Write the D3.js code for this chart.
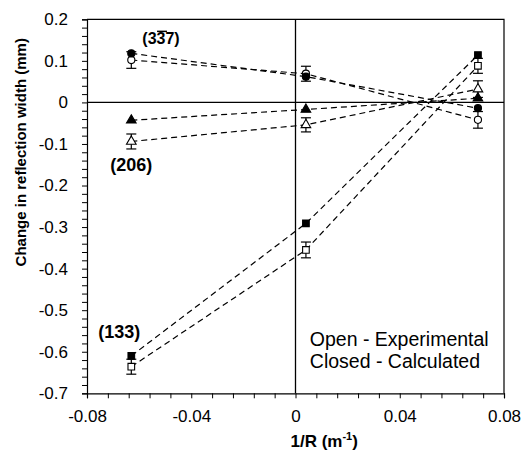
<!DOCTYPE html>
<html>
<head>
<meta charset="utf-8">
<script src="https://cdn.jsdelivr.net/npm/d3@7"></script>
<style>
  body { margin: 0; background: #fff; }
  svg { display: block; font-family: "Liberation Sans", Arial, sans-serif; }
</style>
</head>
<body>
<div class="chart"></div>
<script>
// 1/R positions (m^-1)
const invR = [-0.063, 0.004, 0.07];

// calculated (closed markers)
const calc337 = [0.118, 0.062, -0.014];
const calc206 = [-0.043, -0.017, 0.010];
const calc133 = [-0.610, -0.291, 0.114];

// experimental (open markers) and error bars
const exp337 = [0.102, 0.069, -0.042];
const err337 = [0.020, 0.018, 0.020];
const exp206 = [-0.094, -0.054, 0.032];
const err206 = [0.018, 0.017, 0.020];
const exp133 = [-0.636, -0.355, 0.088];
const err133 = [0.018, 0.019, 0.018];

const xTicks = d3.range(-0.08, 0.0801, 0.008);
const xLabels = [-0.08, -0.04, 0, 0.04, 0.08];
const yTicks = d3.range(-0.7, 0.2001, 0.02);
const yLabels = [0.2, 0.1, 0, -0.1, -0.2, -0.3, -0.4, -0.5, -0.6, -0.7];

const width = 524, height = 461;
const margin = {top: 19.3, right: 20, bottom: 67.7, left: 87};

const svg = d3.select('.chart').append('svg')
    .attr('width', width)
    .attr('height', height);

const x = d3.scaleLinear().domain([-0.08, 0.08]).range([margin.left, width - margin.right]);
const y = d3.scaleLinear().domain([-0.7, 0.2]).range([height - margin.bottom, margin.top]);

// only some ticks get a label
const labelOf = list => v => {
    const l = list.find(l => Math.abs(l - v) < 1e-6);
    return l === undefined ? '' : String(l);
};

const xAxis = d3.axisBottom(x)
    .tickValues(xTicks)
    .tickSize(5)
    .tickPadding(12)
    .tickFormat(labelOf(xLabels));
const yAxis = d3.axisLeft(y)
    .tickValues(yTicks)
    .tickSize(5)
    .tickPadding(14)
    .tickFormat(labelOf(yLabels));

const gx = svg.append('g')
    .attr('transform', `translate(0,${y(-0.7)})`)
    .call(xAxis);
const gy = svg.append('g')
    .attr('transform', `translate(${x(-0.08)},0)`)
    .call(yAxis);

[gx, gy].forEach(g => {
    g.select('.domain').attr('stroke', '#000').attr('stroke-width', 1.2);
    g.selectAll('.tick line').attr('stroke', '#000').attr('stroke-width', 1);
    g.selectAll('.tick text').attr('fill', '#000').style('font-size', '17px');
});

// frame top/right
svg.append('path')
    .attr('d', `M${x(-0.08)},${y(0.2)}H${x(0.08)}V${y(-0.7)}`)
    .attr('fill', 'none').attr('stroke', '#000').attr('stroke-width', 1.2);

// zero lines
svg.append('line')
    .attr('x1', x(-0.08)).attr('x2', x(0.08))
    .attr('y1', y(0)).attr('y2', y(0))
    .attr('stroke', '#000').attr('stroke-width', 1.3);
svg.append('line')
    .attr('x1', x(0)).attr('x2', x(0))
    .attr('y1', y(0.2)).attr('y2', y(-0.7))
    .attr('stroke', '#000').attr('stroke-width', 1.3);

const series = [
    {vals: exp337, err: err337, shape: 'circle', open: true},
    {vals: calc337, shape: 'circle', open: false},
    {vals: exp206, err: err206, shape: 'triangle', open: true},
    {vals: calc206, shape: 'triangle', open: false},
    {vals: exp133, err: err133, shape: 'square', open: true},
    {vals: calc133, shape: 'square', open: false}
];

const line = d3.line().x((d, i) => x(invR[i])).y(d => y(d));

// dashed lines
svg.append('g').selectAll('path')
    .data(series)
    .join('path')
    .attr('d', s => line(s.vals))
    .attr('fill', 'none')
    .attr('stroke', '#000')
    .attr('stroke-width', 1.2)
    .attr('stroke-dasharray', '6,4');

// error bars
const eg = svg.append('g').attr('stroke', '#000').attr('stroke-width', 1.2);
series.filter(s => s.err).forEach(s => {
    s.vals.forEach((v, i) => {
        const cx = x(invR[i]);
        const y1 = y(v + s.err[i]), y2 = y(v - s.err[i]);
        eg.append('line').attr('x1', cx).attr('x2', cx).attr('y1', y1).attr('y2', y2);
        eg.append('line').attr('x1', cx - 5).attr('x2', cx + 5).attr('y1', y1).attr('y2', y1);
        eg.append('line').attr('x1', cx - 5).attr('x2', cx + 5).attr('y1', y2).attr('y2', y2);
    });
});

// markers
const sym = {
    circle: d3.symbol().type(d3.symbolCircle).size(40),
    triangle: d3.symbol().type(d3.symbolTriangle).size(40),
    square: d3.symbol().type(d3.symbolSquare).size(44)
};
series.forEach(s => {
    svg.append('g').selectAll('path')
        .data(s.vals)
        .join('path')
        .attr('d', sym[s.shape]())
        .attr('transform', (d, i) => `translate(${x(invR[i])},${y(d)})`)
        .attr('fill', s.open ? '#fff' : '#000')
        .attr('stroke', '#000')
        .attr('stroke-width', 1.1);
});

// plane labels
const labels = [
    {text: ['(3', '3', '7)'], bar: 1, size: 16, px: invR[0], py: calc337[0], dx: 11, dy: -9},
    {text: ['(206)'], size: 18, px: invR[0], py: exp206[0], dx: -21, dy: 30},
    {text: ['(133)'], size: 18, px: invR[0], py: calc133[0], dx: -33, dy: -18}
];
labels.forEach(l => {
    const t = svg.append('text')
        .attr('x', x(l.px) + l.dx)
        .attr('y', y(l.py) + l.dy)
        .style('font-size', l.size + 'px')
        .style('font-weight', 'bold');
    l.text.forEach(s => t.append('tspan').text(s));
    if (l.bar !== undefined) {
        const node = t.node();
        const start = l.text.slice(0, l.bar).join('').length;
        const ext = node.getExtentOfChar(start);
        svg.append('line')
            .attr('x1', ext.x + 0.5).attr('x2', ext.x + ext.width + 1.5)
            .attr('y1', ext.y + 1).attr('y2', ext.y + 1)
            .attr('stroke', '#000').attr('stroke-width', 1.5);
    }
});

// legend note
const note = ['Open - Experimental', 'Closed - Calculated'];
svg.append('g').selectAll('text')
    .data(note)
    .join('text')
    .attr('x', x(0.0055))
    .attr('y', (d, i) => y(-0.585) + i * 22)
    .style('font-size', '19.5px')
    .text(d => d);

// axis titles
svg.append('text')
    .attr('transform', `translate(26,${y(-0.12)}) rotate(-90)`)
    .attr('text-anchor', 'middle')
    .style('font-size', '15px')
    .style('font-weight', 'bold')
    .text('Change in reflection width (mm)');

const xt = svg.append('text')
    .attr('x', x(0.011))
    .attr('y', height - 14)
    .attr('text-anchor', 'middle')
    .style('font-size', '17px')
    .style('font-weight', 'bold');
xt.append('tspan').text('1/R  (m');
xt.append('tspan').attr('dy', -7).style('font-size', '11px').text('-1');
xt.append('tspan').attr('dy', 7).text(')');
</script>
</body>
</html>
